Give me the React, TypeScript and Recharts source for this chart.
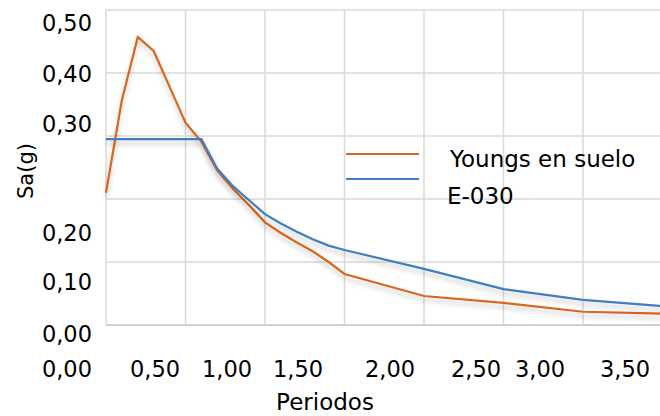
import React from 'react';
import { LineChart, Line, XAxis, YAxis, CartesianGrid, Legend } from 'recharts';

const periods = [0, 0.1, 0.2, 0.3, 0.4, 0.5, 0.6, 0.7, 0.8, 0.9, 1.0, 1.1, 1.2, 1.3, 1.4, 1.5, 2.0, 2.5, 3.0, 3.5];
const youngs = [0.21, 0.357, 0.457, 0.435, 0.378, 0.321, 0.291, 0.245, 0.216, 0.19, 0.163, 0.146, 0.131, 0.117, 0.1, 0.081, 0.046, 0.035, 0.021, 0.018];
const e030 = [0.295, 0.295, 0.295, 0.295, 0.295, 0.295, 0.295, 0.248, 0.22, 0.198, 0.176, 0.161, 0.148, 0.136, 0.126, 0.119, 0.089, 0.057, 0.04, 0.03];

const xTicks = [0, 0.5, 1.0, 1.5, 2.0, 2.5, 3.0, 3.5];
const xTickLabels = ['0,00', '0,50', '1,00', '1,50', '2,00', '2,50', '3,00', '3,50'];
const yTicks = [0, 0.1, 0.2, 0.3, 0.4, 0.5];
const yTickLabels = ['0,00', '0,10', '0,20', '0,30', '0,40', '0,50'];

const seriesNames = ['Youngs en suelo', 'E-030'];
const xTitle = 'Periodos';
const yTitle = 'Sa(g)';

const ORANGE = '#d8661e';
const BLUE = '#3f7ec0';
const GRID = '#d9d9d9';
const FONT = 'DejaVu Sans, sans-serif';

// label placement quirks of the reference (offsets from the tick position)
const xLabelShift = [-14, -30.5, -38, -46.5, -34, -27.5, -43, -37.5];
const yLabelShift = [8.5, 19.5, 33.5, -12.5, 0.5, 12.5];

const data = periods.map((t, i) => ({ t, youngs: youngs[i], e030: e030[i] }));

const XTick = (props: any) => {
  const { x, y, index } = props;
  const i = index as number;
  const anchor = i === 0 ? 'end' : 'middle';
  return (
    <text x={x + xLabelShift[i]} y={y + 52} textAnchor={anchor} fontFamily={FONT} fontSize={22.5} fill="#000">
      {xTickLabels[i]}
    </text>
  );
};

const YTick = (props: any) => {
  const { x, y, index } = props;
  const i = index as number;
  return (
    <text x={x - 14} y={y + yLabelShift[i] + 8.2} textAnchor="end" fontFamily={FONT} fontSize={22.5} fill="#000">
      {yTickLabels[i]}
    </text>
  );
};

const LegendContent = () => (
  <svg width={320} height={80} style={{ overflow: 'visible', display: 'block' }}>
    <line x1={6} x2={79} y1={14} y2={14} stroke={ORANGE} strokeWidth={2} />
    <line x1={6} x2={79} y1={39} y2={39} stroke={BLUE} strokeWidth={2} />
    <text x={110} y={26.5} fontFamily={FONT} fontSize={23} fill="#000">{seriesNames[0]}</text>
    <text x={107} y={63.5} fontFamily={FONT} fontSize={23} fill="#000">{seriesNames[1]}</text>
  </svg>
);

const XTitle = () => (
  <text x={325} y={410} textAnchor="middle" fontFamily={FONT} fontSize={23} fill="#000">
    {xTitle}
  </text>
);

const YTitle = () => (
  <text x={33} y={171} transform="rotate(-90 33 171)" textAnchor="middle" fontFamily={FONT} fontSize={21} fill="#000">
    {yTitle}
  </text>
);

export default function App() {
  return (
    <div style={{ position: 'fixed', left: 0, top: 0, width: 660, height: 416, overflow: 'hidden', background: '#fff' }}>
      <LineChart width={680} height={416} data={data} margin={{ top: 10, right: 17.5, bottom: 0, left: 0 }}>
        <defs>
          <filter id="sh" x="-10%" y="-20%" width="120%" height="160%">
            <feDropShadow dx="0" dy="4" stdDeviation="2.5" floodColor="#000" floodOpacity="0.22" />
          </filter>
        </defs>
        <CartesianGrid stroke={GRID} strokeWidth={1.5} horizontal vertical />
        <XAxis
          dataKey="t"
          type="number"
          domain={[0, 3.5]}
          ticks={xTicks}
          height={91}
          tickSize={0}
          tickMargin={0}
          tickLine={false}
          axisLine={{ stroke: '#d0d0d0', strokeWidth: 2 }}
          tick={<XTick />}
          interval={0}
          label={<XTitle />}
        />
        <YAxis
          type="number"
          domain={[0, 0.5]}
          ticks={yTicks}
          width={106}
          tickSize={0}
          tickMargin={0}
          tickLine={false}
          axisLine={false}
          tick={<YTick />}
          interval={0}
          label={<YTitle />}
        />
        <Line
          type="linear"
          dataKey="youngs"
          name={seriesNames[0]}
          stroke={ORANGE}
          strokeWidth={2.2}
          dot={false}
          activeDot={false}
          isAnimationActive={false}
          style={{ filter: 'url(#sh)' }}
        />
        <Line
          type="linear"
          dataKey="e030"
          name={seriesNames[1]}
          stroke={BLUE}
          strokeWidth={2.2}
          dot={false}
          activeDot={false}
          isAnimationActive={false}
          style={{ filter: 'url(#sh)' }}
        />
        <Legend
          layout="vertical"
          align="center"
          verticalAlign="middle"
          content={<LegendContent />}
          wrapperStyle={{ position: 'absolute', left: 340, top: 140, width: 320, height: 80 }}
        />
      </LineChart>
    </div>
  );
}
